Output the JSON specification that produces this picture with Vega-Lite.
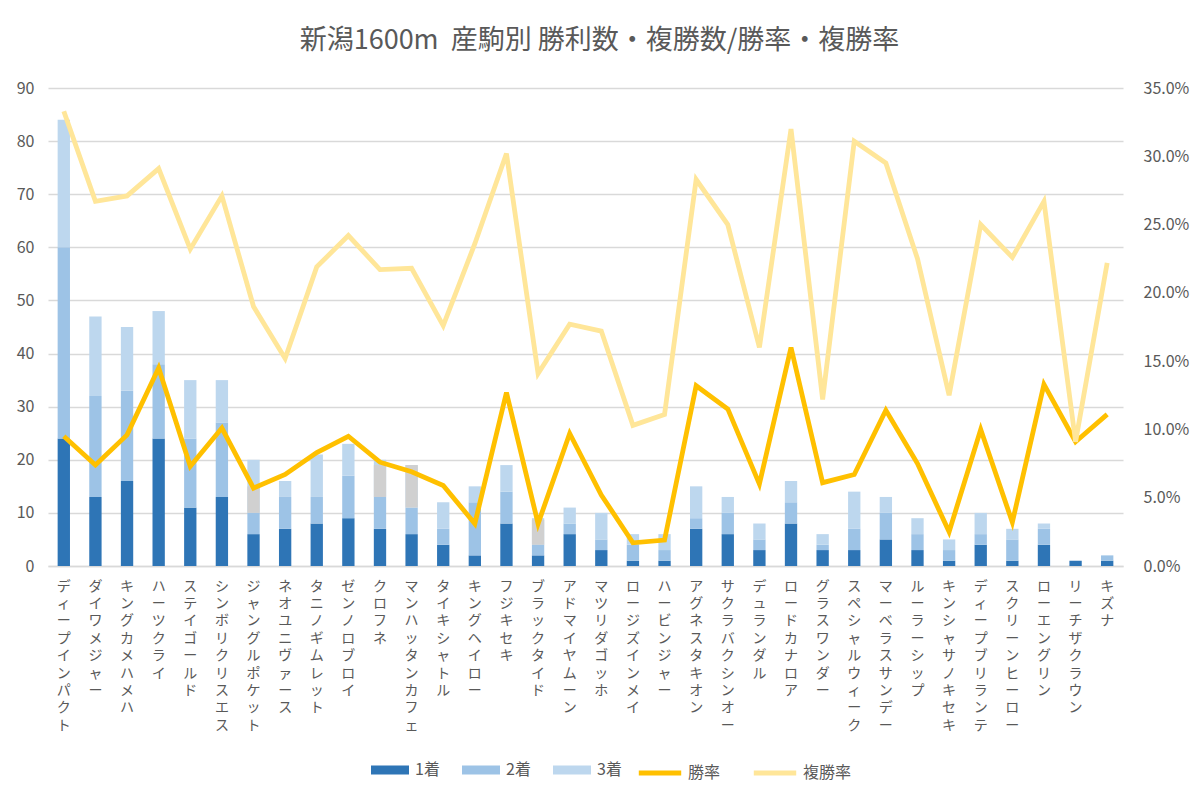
{
  "$schema": "https://vega.github.io/schema/vega-lite/v6.json",
  "width": 1075,
  "height": 478,
  "autosize": {"type": "none"},
  "padding": {"left": 48, "top": 88, "right": 77, "bottom": 235},
  "background": "white",
  "config": {"view": {"stroke": null}, "font": "Noto Sans CJK JP", "axis": {"labelLineHeight": 17.4}},
  "title": {
    "text": "新潟1600m\u00a0 産駒別 勝利数・複勝数/勝率・複勝率",
    "fontSize": 27,
    "fontWeight": "normal",
    "color": "#595959",
    "anchor": "middle",
    "frame": "group",
    "offset": 25,
    "dx": 14
  },
  "data": {
    "values": [
      {"産駒": "ディープインパクト", "1着": 24, "2着": 36, "3着": 24, "勝率": 0.095, "複勝率": 0.333},
      {"産駒": "ダイワメジャー", "1着": 13, "2着": 19, "3着": 15, "勝率": 0.074, "複勝率": 0.267},
      {"産駒": "キングカメハメハ", "1着": 16, "2着": 17, "3着": 12, "勝率": 0.096, "複勝率": 0.271},
      {"産駒": "ハーツクライ", "1着": 24, "2着": 14, "3着": 10, "勝率": 0.145, "複勝率": 0.291},
      {"産駒": "ステイゴールド", "1着": 11, "2着": 13, "3着": 11, "勝率": 0.073, "複勝率": 0.232},
      {"産駒": "シンボリクリスエス", "1着": 13, "2着": 14, "3着": 8, "勝率": 0.101, "複勝率": 0.271},
      {"産駒": "ジャングルポケット", "1着": 6, "2着": 4, "3着": 10, "勝率": 0.057, "複勝率": 0.19, "gray_lo": 10, "gray_hi": 15},
      {"産駒": "ネオユニヴァース", "1着": 7, "2着": 6, "3着": 3, "勝率": 0.067, "複勝率": 0.152},
      {"産駒": "タニノギムレット", "1着": 8, "2着": 5, "3着": 8, "勝率": 0.083, "複勝率": 0.219},
      {"産駒": "ゼンノロブロイ", "1着": 9, "2着": 8, "3着": 6, "勝率": 0.095, "複勝率": 0.242},
      {"産駒": "クロフネ", "1着": 7, "2着": 6, "3着": 7, "勝率": 0.076, "複勝率": 0.217, "gray_lo": 13, "gray_hi": 19},
      {"産駒": "マンハッタンカフェ", "1着": 6, "2着": 5, "3着": 8, "勝率": 0.069, "複勝率": 0.218, "gray_lo": 11, "gray_hi": 19},
      {"産駒": "タイキシャトル", "1着": 4, "2着": 3, "3着": 5, "勝率": 0.059, "複勝率": 0.176},
      {"産駒": "キングヘイロー", "1着": 2, "2着": 10, "3着": 3, "勝率": 0.031, "複勝率": 0.236},
      {"産駒": "フジキセキ", "1着": 8, "2着": 6, "3着": 5, "勝率": 0.127, "複勝率": 0.302},
      {"産駒": "ブラックタイド", "1着": 2, "2着": 2, "3着": 5, "勝率": 0.031, "複勝率": 0.141, "gray_lo": 4, "gray_hi": 8.7},
      {"産駒": "アドマイヤムーン", "1着": 6, "2着": 2, "3着": 3, "勝率": 0.097, "複勝率": 0.177},
      {"産駒": "マツリダゴッホ", "1着": 3, "2着": 2, "3着": 5, "勝率": 0.052, "複勝率": 0.172},
      {"産駒": "ロージズインメイ", "1着": 1, "2着": 3, "3着": 2, "勝率": 0.017, "複勝率": 0.103},
      {"産駒": "ハービンジャー", "1着": 1, "2着": 2, "3着": 3, "勝率": 0.019, "複勝率": 0.111},
      {"産駒": "アグネスタキオン", "1着": 7, "2着": 2, "3着": 6, "勝率": 0.132, "複勝率": 0.283},
      {"産駒": "サクラバクシンオー", "1着": 6, "2着": 4, "3着": 3, "勝率": 0.115, "複勝率": 0.25},
      {"産駒": "デュランダル", "1着": 3, "2着": 2, "3着": 3, "勝率": 0.06, "複勝率": 0.16},
      {"産駒": "ロードカナロア", "1着": 8, "2着": 4, "3着": 4, "勝率": 0.16, "複勝率": 0.32},
      {"産駒": "グラスワンダー", "1着": 3, "2着": 1, "3着": 2, "勝率": 0.061, "複勝率": 0.122},
      {"産駒": "スペシャルウィーク", "1着": 3, "2着": 4, "3着": 7, "勝率": 0.067, "複勝率": 0.311},
      {"産駒": "マーベラスサンデー", "1着": 5, "2着": 5, "3着": 3, "勝率": 0.114, "複勝率": 0.295},
      {"産駒": "ルーラーシップ", "1着": 3, "2着": 3, "3着": 3, "勝率": 0.075, "複勝率": 0.225},
      {"産駒": "キンシャサノキセキ", "1着": 1, "2着": 2, "3着": 2, "勝率": 0.025, "複勝率": 0.125},
      {"産駒": "ディープブリランテ", "1着": 4, "2着": 2, "3着": 4, "勝率": 0.1, "複勝率": 0.25},
      {"産駒": "スクリーンヒーロー", "1着": 1, "2着": 4, "3着": 2, "勝率": 0.032, "複勝率": 0.226},
      {"産駒": "ローエングリン", "1着": 4, "2着": 3, "3着": 1, "勝率": 0.133, "複勝率": 0.267},
      {"産駒": "リーチザクラウン", "1着": 1, "2着": 0, "3着": 0, "勝率": 0.091, "複勝率": 0.091},
      {"産駒": "キズナ", "1着": 1, "2着": 1, "3着": 0, "勝率": 0.111, "複勝率": 0.222}
    ]
  },
  "encoding": {
    "x": {
      "field": "産駒",
      "type": "nominal",
      "sort": null,
      "scale": {"paddingInner": 0.61, "paddingOuter": 0.305},
      "axis": {
        "title": null,
        "labelAngle": 0,
        "labelExpr": "split(datum.label, '')",
        "labelBaseline": "top",
        "labelAlign": "center",
        "labelFontSize": 14,
        "labelLineHeight": 17.4,
        "labelColor": "#595959",
        "labelPadding": 13,
        "labelOverlap": false,
        "labelLimit": 0,
        "ticks": false,
        "domain": true,
        "domainColor": "#D9D9D9",
        "domainWidth": 1.3
      }
    }
  },
  "layer": [
    {
      "transform": [{"fold": ["1着", "2着", "3着"], "as": ["着順", "頭数"]}],
      "mark": {"type": "bar"},
      "encoding": {
        "y": {
          "field": "頭数",
          "type": "quantitative",
          "stack": "zero",
          "scale": {"domain": [0, 90]},
          "axis": {
            "title": null,
            "values": [0, 10, 20, 30, 40, 50, 60, 70, 80, 90],
            "grid": true,
            "gridColor": "#D9D9D9",
            "gridWidth": 1.3,
            "domain": false,
            "ticks": false,
            "labelFontSize": 16,
            "labelColor": "#595959",
            "labelPadding": 14
          }
        },
        "color": {
          "field": "着順",
          "type": "nominal",
          "scale": {"domain": ["1着", "2着", "3着"], "range": ["#2E75B6", "#9DC3E6", "#BDD7EE"]},
          "legend": {
            "orient": "none",
            "legendX": 323,
            "legendY": 663,
            "direction": "horizontal",
            "title": null,
            "symbolType": "M-1,-0.237H1V0.237H-1Z",
            "symbolSize": 1444,
            "symbolStrokeWidth": 0,
            "labelFontSize": 16,
            "labelColor": "#595959",
            "labelOffset": 6,
            "columnPadding": 22,
            "padding": 0
          }
        },
        "order": {"field": "着順", "sort": "ascending"}
      }
    },
    {
      "transform": [{"filter": "isValid(datum.gray_lo)"}],
      "mark": {"type": "bar", "color": "#D0D0D0"},
      "encoding": {
        "y": {"field": "gray_lo", "type": "quantitative", "scale": {"domain": [0, 90]}, "axis": null},
        "y2": {"field": "gray_hi"}
      }
    },
    {
      "transform": [{"fold": ["勝率", "複勝率"], "as": ["系列", "率"]}],
      "mark": {"type": "line", "strokeWidth": 4.8},
      "encoding": {
        "y": {
          "field": "率",
          "type": "quantitative",
          "scale": {"domain": [0, 0.35]},
          "axis": {
            "orient": "right",
            "title": null,
            "format": ".1%",
            "values": [0, 0.05, 0.1, 0.15, 0.2, 0.25, 0.3, 0.35],
            "grid": false,
            "domain": false,
            "ticks": false,
            "labelFontSize": 16,
            "labelColor": "#595959",
            "labelPadding": 20
          }
        },
        "color": {
          "field": "系列",
          "type": "nominal",
          "scale": {"domain": ["勝率", "複勝率"], "range": ["#FFC000", "#FFE699"]},
          "legend": {
            "orient": "none",
            "legendX": 588,
            "legendY": 661,
            "direction": "horizontal",
            "title": null,
            "symbolType": "stroke",
            "symbolSize": 1800,
            "symbolStrokeWidth": 5,
            "labelFontSize": 16,
            "labelColor": "#595959",
            "labelOffset": 4,
            "columnPadding": 22,
            "padding": 0
          }
        }
      }
    }
  ],
  "resolve": {"scale": {"y": "independent", "color": "independent"}}
}
